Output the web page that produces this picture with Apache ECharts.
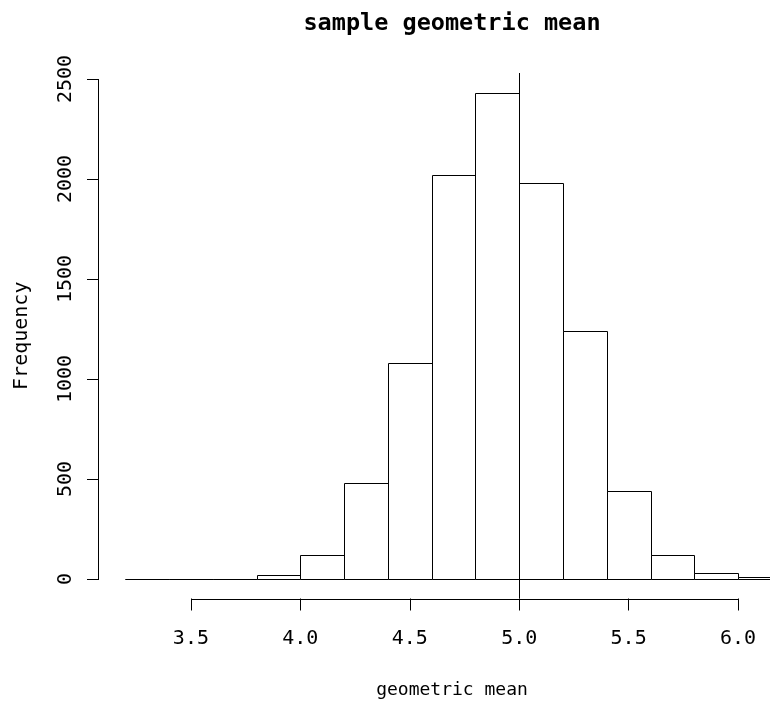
<!DOCTYPE html>
<html><head><meta charset="utf-8">
<script src="https://cdn.jsdelivr.net/npm/echarts@6/dist/echarts.min.js"></script>
<style>html,body{margin:0;padding:0;background:#fff}#chart{width:770px;height:704px}</style>
</head><body><div id="chart"></div>
<script>
// ---- data ----
const binEdges = [3.2,3.4,3.6,3.8,4.0,4.2,4.4,4.6,4.8,5.0,5.2,5.4,5.6,5.8,6.0,6.2];
const counts   = [0,0,0,20,120,480,1080,2020,2430,1980,1240,440,120,30,8];
const xTicks = [3.5,4.0,4.5,5.0,5.5,6.0];
const xTickLabels = ['3.5','4.0','4.5','5.0','5.5','6.0'];
const yTicks = [0,500,1000,1500,2000,2500];
const yTickLabels = ['0','500','1000','1500','2000','2500'];
const refLine = 5.0;
const titleText = 'sample geometric mean';
const xTitle = 'geometric mean';
const yTitle = 'Frequency';

const FONT = "'DejaVu Sans Mono', 'Liberation Mono', monospace";
const chart = echarts.init(document.getElementById('chart'), null, {renderer:'canvas'});

const histData = counts.map((c,i)=>[binEdges[i], binEdges[i+1], c]);
const snap = v => Math.round(v) + 0.5;

chart.setOption({
  animation:false,
  backgroundColor:'#fff',
  grid:{left:99, right:0, top:73, bottom:105.5, containLabel:false, outerBoundsMode:'none'},
  xAxis:{
    type:'value', min:3.08, max:6.146,
    axisLine:{show:false, onZero:false},
    splitLine:{show:false},
    axisTick:{show:true, customValues:xTicks, length:12, lineStyle:{color:'#000', width:1}},
    axisLabel:{customValues:xTicks, margin:30, color:'#000', fontFamily:FONT, fontSize:20,
      formatter:v=>{const i=xTicks.findIndex(t=>Math.abs(t-v)<1e-9);return i>=0?xTickLabels[i]:'';}}
  },
  yAxis:{
    type:'value', min:-97.5, max:2530,
    name:yTitle, nameLocation:'middle', nameGap:67, nameRotate:90,
    nameTextStyle:{color:'#000', fontFamily:FONT, fontSize:20},
    axisLine:{show:false, onZero:false},
    splitLine:{show:false},
    axisTick:{show:true, customValues:yTicks, length:12, lineStyle:{color:'#000', width:1}},
    axisLabel:{customValues:yTicks, rotate:90, margin:23, color:'#000', fontFamily:FONT, fontSize:20,
      formatter:v=>{const i=yTicks.findIndex(t=>Math.abs(t-v)<1e-9);return i>=0?yTickLabels[i]:'';}}
  },
  graphic:[
    {type:'text', x:452, y:24, style:{text:titleText, font:"bold 23.5px 'DejaVu Sans Mono', monospace", fill:'#000', align:'center', verticalAlign:'middle'}},
    {type:'text', x:452, y:690, style:{text:xTitle, font:"18px 'DejaVu Sans Mono', monospace", fill:'#000', align:'center', verticalAlign:'middle'}}
  ],
  series:[
    {
      type:'custom', name:'hist', data:histData, encode:{x:[0,1], y:2},
      renderItem:(params, api)=>{
        const p0 = api.coord([api.value(0), 0]);
        const p1 = api.coord([api.value(1), api.value(2)]);
        const x0 = snap(p0[0]), x1 = snap(p1[0]), y0 = snap(p0[1]), y1 = snap(p1[1]);
        return {type:'rect', shape:{x:x0, y:y1, width:x1-x0, height:y0-y1},
          style:{fill:'#fff', stroke:'#000', lineWidth:1}};
      },
      markLine:{silent:true, symbol:'none', label:{show:false},
        lineStyle:{color:'#000', width:1, type:'solid'},
        data:[{xAxis:refLine}]}
    },
    {
      type:'custom', name:'axes', data:[[0]], silent:true,
      renderItem:(params, api)=>{
        const cs = params.coordSys;
        const bottom = snap(cs.y + cs.height);
        const left = snap(cs.x) - 1;
        const xa = api.coord([xTicks[0], 0])[0], xb = api.coord([xTicks[xTicks.length-1], 0])[0];
        const ya = api.coord([0, yTicks[0]])[1], yb = api.coord([0, yTicks[yTicks.length-1]])[1];
        return {type:'group', children:[
          {type:'line', shape:{x1:snap(xa), y1:bottom, x2:snap(xb), y2:bottom}, style:{stroke:'#000', lineWidth:1}},
          {type:'line', shape:{x1:left, y1:snap(ya), x2:left, y2:snap(yb)}, style:{stroke:'#000', lineWidth:1}}
        ]};
      }
    }
  ]
});
</script></body></html>
